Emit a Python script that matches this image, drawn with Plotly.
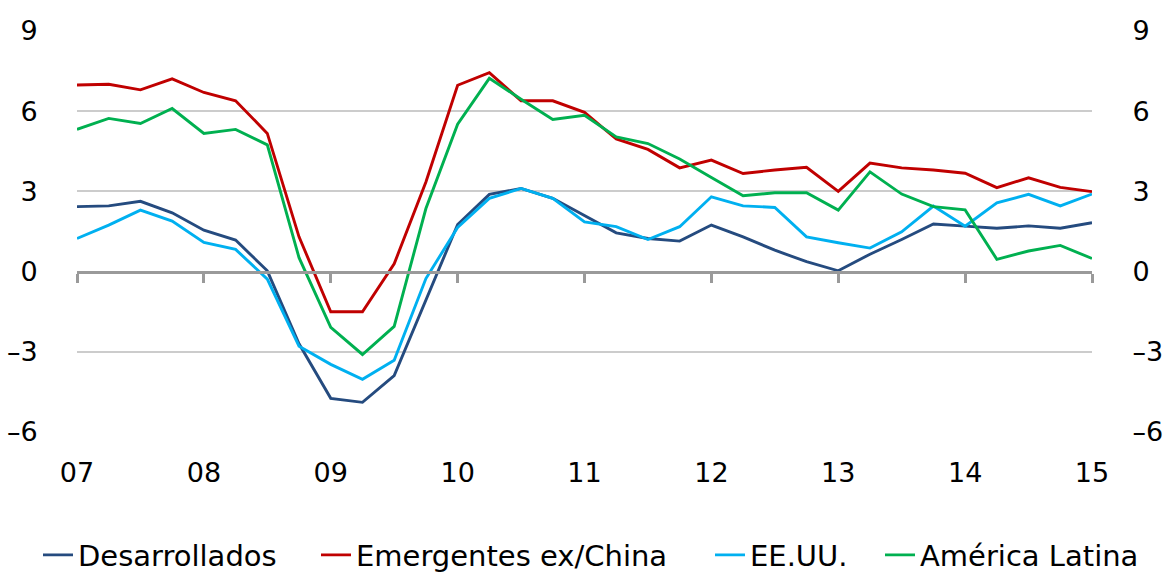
import plotly.graph_objects as go

# Quarterly data, 2007 Q1 .. 2015 Q1
quarters = [2007 + i * 0.25 for i in range(33)]
tick_years = [2007, 2008, 2009, 2010, 2011, 2012, 2013, 2014, 2015]
tick_labels = ["07", "08", "09", "10", "11", "12", "13", "14", "15"]
y_ticks = [-6, -3, 0, 3, 6, 9]
y_tick_labels = ["\u20136", "\u20133", "0", "3", "6", "9"]

desarrollados = [2.43, 2.46, 2.63, 2.20, 1.55, 1.18, 0.03, -2.70, -4.74, -4.89, -3.89, -1.10,
                 1.76, 2.89, 3.11, 2.74, 2.11, 1.45, 1.24, 1.14, 1.74, 1.30, 0.80, 0.37,
                 0.03, 0.65, 1.20, 1.78, 1.70, 1.62, 1.71, 1.62, 1.83]
emergentes = [6.98, 7.01, 6.80, 7.21, 6.70, 6.39, 5.17, 1.30, -1.50, -1.50, 0.29, 3.35,
              6.97, 7.44, 6.39, 6.39, 5.96, 4.96, 4.57, 3.88, 4.17, 3.67, 3.80, 3.90,
              3.00, 4.06, 3.88, 3.80, 3.68, 3.14, 3.51, 3.15, 2.99]
eeuu = [1.24, 1.74, 2.30, 1.89, 1.09, 0.83, -0.28, -2.79, -3.47, -4.03, -3.32, -0.26,
        1.65, 2.74, 3.11, 2.74, 1.86, 1.68, 1.20, 1.68, 2.80, 2.46, 2.40, 1.30,
        1.08, 0.88, 1.49, 2.45, 1.70, 2.57, 2.89, 2.46, 2.90]
latam = [5.32, 5.73, 5.54, 6.10, 5.17, 5.32, 4.74, 0.52, -2.09, -3.10, -2.05, 2.36,
         5.51, 7.23, 6.45, 5.69, 5.85, 5.04, 4.79, 4.21, 3.52, 2.84, 2.95, 2.95,
         2.30, 3.73, 2.90, 2.43, 2.31, 0.46, 0.77, 0.98, 0.49]

series_names = ["Desarrollados", "Emergentes ex/China", "EE.UU.", "América Latina"]
series_values = [desarrollados, emergentes, eeuu, latam]
series_colors = ["#254B7F", "#C00000", "#00B0F0", "#00B050"]

FONT = "DejaVu Sans, Verdana, sans-serif"
YMIN, YMAX = -6, 9
W, H = 1169, 573
ML, MR, MT, MB = 77, 77, 31, 141

# legend entry start positions (pixels) -> container coords
legend_px = [38, 316, 710, 880]
legend_y_px = 555

fig = go.Figure()
legend_layout = {}
for i, (name, vals, color) in enumerate(zip(series_names, series_values, series_colors)):
    key = "legend" if i == 0 else f"legend{i + 1}"
    fig.add_trace(go.Scatter(x=quarters, y=vals, name=name, mode="lines",
                             line=dict(color=color, width=2.9), legend=key))
    legend_layout[key] = dict(
        xref="container", yref="container",
        x=legend_px[i] / W, xanchor="left",
        y=1 - legend_y_px / H, yanchor="middle",
        orientation="h", bgcolor="rgba(0,0,0,0)", borderwidth=0,
        font=dict(family=FONT, size=29, color="black"),
    )

# invisible traces to register the right y axis and the zero-line x axis
fig.add_trace(go.Scatter(x=quarters, y=desarrollados, yaxis="y2", mode="lines",
                         line=dict(color="rgba(0,0,0,0)"), showlegend=False, hoverinfo="skip"))
fig.add_trace(go.Scatter(x=quarters, y=desarrollados, xaxis="x2", mode="lines",
                         line=dict(color="rgba(0,0,0,0)"), showlegend=False, hoverinfo="skip"))

fig.update_layout(
    width=W, height=H,
    margin=dict(l=ML, r=MR, t=MT, b=MB, autoexpand=False),
    paper_bgcolor="white", plot_bgcolor="white",
    font=dict(family=FONT, size=27, color="black"),
    showlegend=True,
    **legend_layout,
    xaxis=dict(range=[2007, 2015], tickvals=tick_years, ticktext=tick_labels,
               showgrid=False, zeroline=False, showline=False, automargin=False,
               ticks="outside", ticklen=17, tickcolor="rgba(0,0,0,0)",
               tickfont=dict(family=FONT, size=27, color="black")),
    xaxis2=dict(range=[2007, 2015], tickvals=tick_years, overlaying="x",
                anchor="free", position=(0 - YMIN) / (YMAX - YMIN), side="bottom",
                showticklabels=False, showgrid=False, zeroline=False, automargin=False,
                showline=True, linecolor="#9a9a9a", linewidth=3,
                ticks="outside", ticklen=9, tickwidth=3, tickcolor="#9a9a9a"),
    yaxis=dict(range=[YMIN, YMAX], tickvals=y_ticks, ticktext=y_tick_labels,
               showgrid=True, automargin=False,
               gridcolor="#cccccc", gridwidth=1.5, zeroline=False, showline=False,
               ticks="outside", ticklen=33, tickcolor="rgba(0,0,0,0)",
               tickfont=dict(family=FONT, size=27, color="black")),
    yaxis2=dict(range=[YMIN, YMAX], tickvals=y_ticks, ticktext=y_tick_labels,
                overlaying="y", side="right",
                showgrid=False, zeroline=False, showline=False, automargin=False,
                ticks="outside", ticklen=34, tickcolor="rgba(0,0,0,0)",
                tickfont=dict(family=FONT, size=27, color="black")),
)

fig.write_html("out.html", config={"displayModeBar": False},
               post_script="document.body.style.margin='0';document.body.style.padding='0';")
